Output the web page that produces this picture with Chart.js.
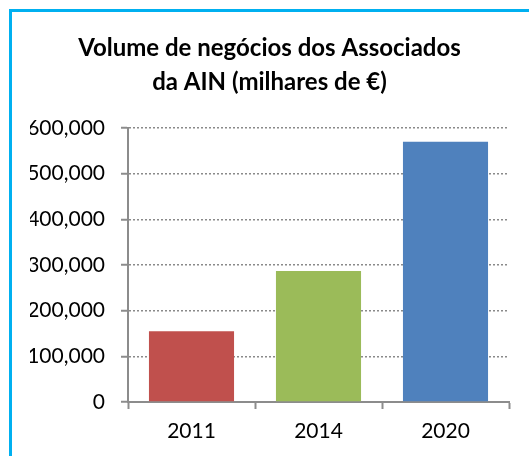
<!DOCTYPE html>
<html>
<head>
<meta charset="utf-8">
<script src="https://cdn.jsdelivr.net/npm/chart.js@4"></script>
<style>
  html, body { margin: 0; padding: 0; background: #fff; overflow: hidden; }
  #frame { position: absolute; left: 9px; top: 9px; width: 600px; height: 600px; border: 3px solid #00B0F0; box-sizing: border-box; }
  #wrap { position: absolute; left: 0; top: 0; width: 529px; height: 456px; }
</style>
</head>
<body>
<div id="frame"></div>
<div id="wrap"><canvas id="c" width="529" height="456"></canvas></div>
<script>
const titleLines = ["Volume de negócios dos Associados", "da AIN (milhares de €)"];
const categories = ["2011", "2014", "2020"];
const values = [155000, 287000, 570000];
const barColors = ["#C0504D", "#9BBB59", "#4F81BD"];
const yMin = 0, yMax = 600000, yStep = 100000;

const axisGray = "#8c8c8c";
const fontFam = "Lato, 'Open Sans', sans-serif";

new Chart(document.getElementById("c"), {
  type: "bar",
  data: {
    labels: categories,
    datasets: [{
      data: values,
      backgroundColor: barColors,
      borderWidth: 0,
      barPercentage: 0.67,
      categoryPercentage: 1.0
    }]
  },
  options: {
    responsive: false,
    animation: false,
    devicePixelRatio: 1,
    layout: { padding: { left: 30, right: 20, top: 0, bottom: 0 } },
    plugins: {
      legend: { display: false },
      tooltip: { enabled: false },
      title: {
        display: true,
        text: titleLines,
        color: "#000",
        font: { family: fontFam, size: 24, weight: "bold", lineHeight: 34 / 24 },
        padding: { top: 31, bottom: 29 }
      }
    },
    scales: {
      x: {
        afterFit: (s) => { s.height = 54; },
        grid: {
          drawOnChartArea: false,
          drawTicks: true,
          tickLength: 7,
          tickColor: axisGray,
          tickWidth: 2,
          offset: true
        },
        border: { display: true, color: axisGray, width: 2 },
        ticks: {
          color: "#000",
          padding: 10,
          font: { family: fontFam, size: 21 }
        }
      },
      y: {
        min: yMin,
        max: yMax,
        afterFit: (s) => { s.width = 98; },
        grid: {
          drawTicks: true,
          tickLength: 7,
          color: "#8a8a8a",
          lineWidth: 1.5,
          tickColor: axisGray,
          tickWidth: 2,
          tickBorderDash: []
        },
        border: { display: true, color: axisGray, width: 2, dash: [2, 2] },
        ticks: {
          stepSize: yStep,
          color: "#000",
          padding: 16,
          font: { family: fontFam, size: 21 },
          callback: (v) => v.toLocaleString("en-US")
        }
      }
    }
  }
});
</script>
</body>
</html>
